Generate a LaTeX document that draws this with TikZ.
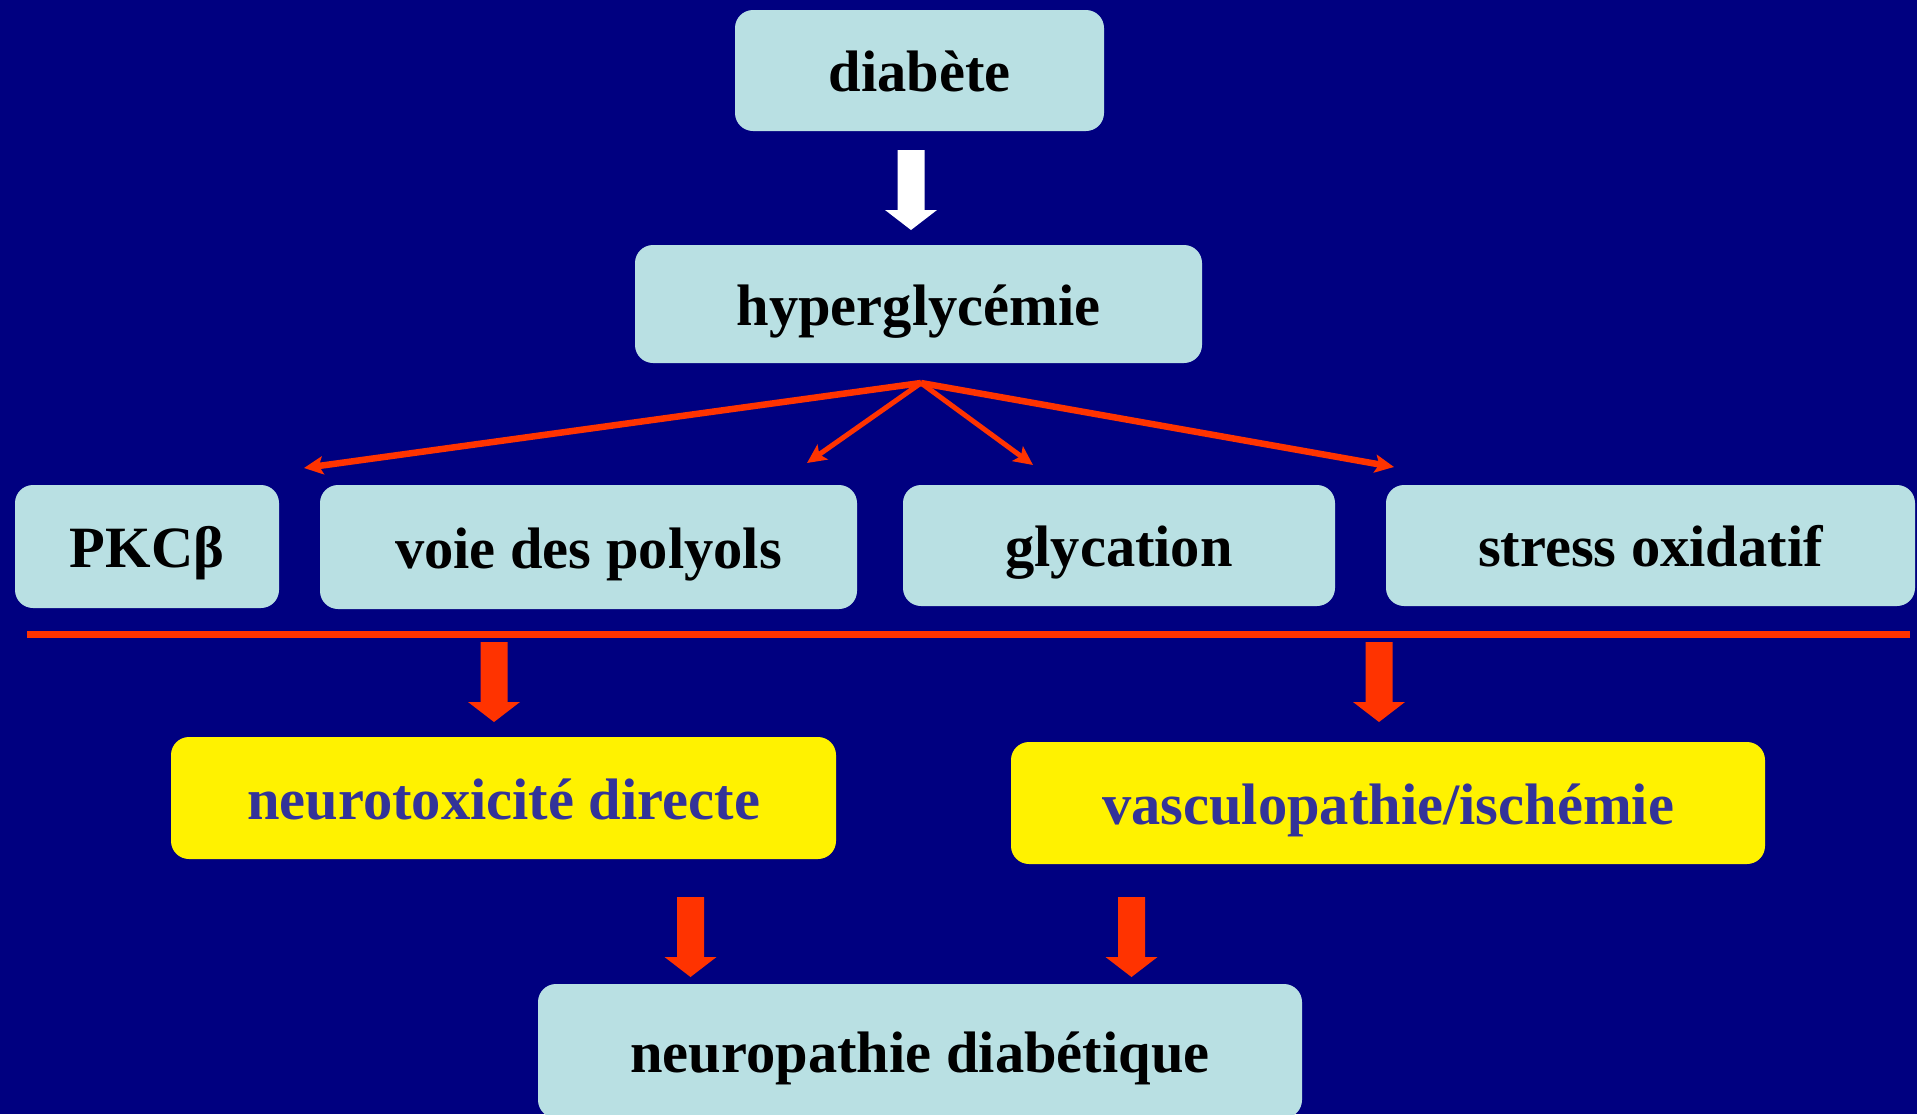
\documentclass[tikz,border=0pt]{standalone}
\usepackage{fontspec}
\setmainfont{Liberation Serif}
\usetikzlibrary{arrows.meta}
\definecolor{navy}{HTML}{000080}
\definecolor{paleblue}{HTML}{B9E0E3}
\definecolor{vivid}{HTML}{FF3300}
\definecolor{ink}{HTML}{333399}
\begin{document}
\begin{tikzpicture}[x=1pt,y=-1pt,
  box/.style={rounded corners=18pt, inner sep=0pt, text height=42pt, text depth=0pt,
    font=\fontsize{58.5}{60}\selectfont\bfseries},
  cyanbox/.style={box, fill=paleblue, text=black},
  yellowbox/.style={box, fill=yellow, text=ink},
  fanline/.style={draw=vivid, -{Stealth[length=19pt,width=18pt,inset=4pt]}},
  fatarrow/.pic={\fill[#1] (-13.5,0) -- (13.5,0) -- (13.5,60) -- (26,60) -- (0,80)
    -- (-26,60) -- (-13.5,60) -- cycle;}
]
\useasboundingbox (0,0) rectangle (1917,1114);
\clip (0,0) rectangle (1917,1114);
\fill[navy] (0,0) rectangle (1917,1114);

% top of the cascade
\node[cyanbox, minimum width=369pt, minimum height=121pt] (diab) at (919.5,70.5) {diabète};
\node[cyanbox, minimum width=567pt, minimum height=118pt] (hyper) at (918.5,304) {hyperglycémie};

% four pathways
\node[cyanbox, minimum width=264pt, minimum height=123pt] (pkc) at (147,546.5) {PKCβ};
\node[cyanbox, minimum width=537pt, minimum height=124pt] (polyol) at (588.5,547) {voie des polyols};
\node[cyanbox, minimum width=432pt, minimum height=121pt] (glyc) at (1119,545.5) {glycation};
\node[cyanbox, minimum width=529pt, minimum height=121pt] (stress) at (1650.5,545.5) {stress oxidatif};

% two mechanisms
\node[yellowbox, minimum width=665pt, minimum height=122pt] (neuro) at (503.5,798) {neurotoxicité directe};
\node[yellowbox, minimum width=754pt, minimum height=122pt] (vasc) at (1388,803) {vasculopathie/ischémie};

% outcome
\node[cyanbox, minimum width=764pt, minimum height=134pt] (outcome) at (920,1051) {neuropathie diabétique};

% white arrow from diabetes to hyperglycaemia
\pic at (911,150) {fatarrow=white};

% fan of arrows towards the pathways
\coordinate (fan) at (921,383);
\coordinate (tipA) at (304,468);
\coordinate (tipB) at (807,463);
\coordinate (tipC) at (1033,465);
\coordinate (tipD) at (1394,467);
\draw[fanline, line width=6.5pt] (fan) -- (tipA);
\draw[fanline, line width=5pt] (fan) -- (tipB);
\draw[fanline, line width=5pt] (fan) -- (tipC);
\draw[fanline, line width=6.5pt] (fan) -- (tipD);

% separating rule
\coordinate (ruleL) at (27,634.5);
\coordinate (ruleR) at (1910,634.5);
\draw[vivid, line width=7.7pt] (ruleL) -- (ruleR);

% red block arrows
\pic at (494,642) {fatarrow=vivid};
\pic at (1379,642) {fatarrow=vivid};
\pic at (690.5,897) {fatarrow=vivid};
\pic at (1131.5,897) {fatarrow=vivid};
\end{tikzpicture}
\end{document}
